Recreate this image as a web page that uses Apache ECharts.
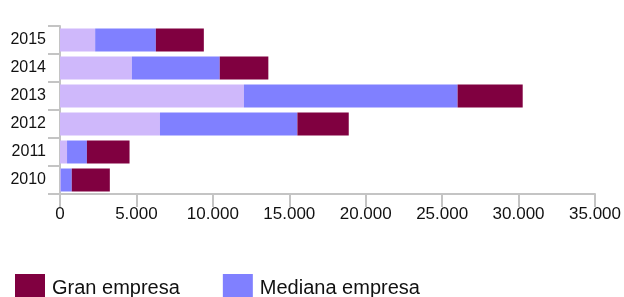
<!DOCTYPE html>
<html>
<head>
<meta charset="utf-8">
<script src="https://cdn.jsdelivr.net/npm/echarts@6/dist/echarts.min.js"></script>
<style>
  html, body { margin: 0; padding: 0; background: #fff; }
  #chart { width: 624px; height: 297px; }
</style>
</head>
<body>
<div id="chart"></div>
<script>
// data
const years = ["2010", "2011", "2012", "2013", "2014", "2015"];
const pequena = [50, 460, 6540, 12030, 4700, 2300];
const mediana = [720, 1300, 8990, 13980, 5750, 3970];
const gran = [2490, 2790, 3360, 4260, 3180, 3140];
const xTicks = [0, 5000, 10000, 15000, 20000, 25000, 30000, 35000];

const font = '"Liberation Sans", Arial, sans-serif';
const axisGray = "#c4c4c4";

const chart = echarts.init(document.getElementById("chart"));

function fmt(v) {
    return String(v).replace(/\B(?=(\d{3})+(?!\d))/g, ".");
}

const option = {
    animation: false,
    grid: { left: 60, right: 28, top: 26, bottom: 103, containLabel: false },
    legend: {
        left: 10,
        top: 269,
        itemWidth: 30,
        itemHeight: 28,
        itemGap: 43,
        icon: "rect",
        textStyle: { fontFamily: font, fontSize: 20, color: "#111", padding: [0, 0, 0, 2] },
        data: ["Gran empresa", "Mediana empresa"]
    },
    xAxis: {
        type: "value",
        min: xTicks[0],
        max: xTicks[xTicks.length - 1],
        interval: 5000,
        axisLine: { show: true, lineStyle: { color: axisGray, width: 2 } },
        axisTick: { show: true, length: 13, lineStyle: { color: axisGray, width: 2 } },
        splitLine: { show: false },
        axisLabel: {
            margin: 12,
            fontFamily: font,
            fontSize: 17,
            color: "#111",
            formatter: fmt
        }
    },
    yAxis: {
        type: "category",
        data: years,
        axisLine: { show: true, lineStyle: { color: axisGray, width: 2 } },
        axisTick: { show: true, length: 12, lineStyle: { color: axisGray, width: 2 } },
        axisLabel: { margin: 14, fontFamily: font, fontSize: 16, color: "#111" }
    },
    series: [
        { name: "Pequeña empresa", type: "bar", stack: "t", barWidth: 23, data: pequena, itemStyle: { color: "#cfb8fb" } },
        { name: "Mediana empresa", type: "bar", stack: "t", barWidth: 23, data: mediana, itemStyle: { color: "#8080ff" } },
        { name: "Gran empresa", type: "bar", stack: "t", barWidth: 23, data: gran, itemStyle: { color: "#800040" } }
    ]
};

chart.setOption(option);
</script>
</body>
</html>
